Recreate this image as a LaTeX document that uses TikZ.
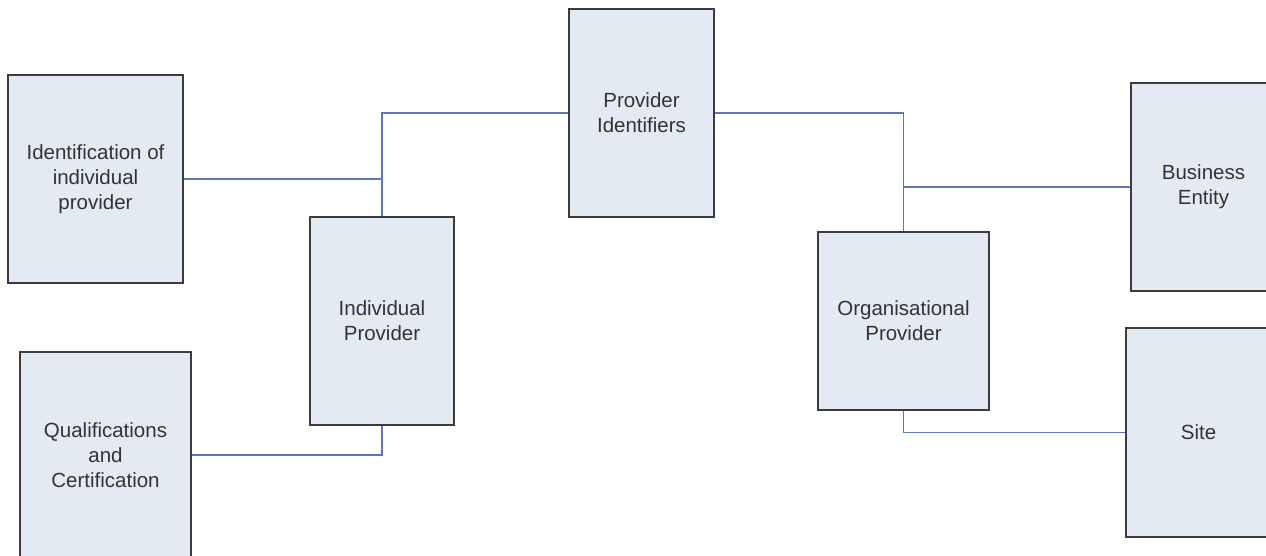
\documentclass[tikz,border=0pt]{standalone}
\usepackage{fontspec}
\setmainfont{Liberation Sans}
\definecolor{boxfill}{HTML}{E4EAF4}
\definecolor{boxline}{HTML}{3C3C3C}
\definecolor{linkblue}{HTML}{5B79BA}
\definecolor{textgray}{HTML}{333333}
\begin{document}
\begin{tikzpicture}[
    x=1pt, y=-1pt,
    font=\fontsize{20.5}{25}\selectfont,
    entity/.style={draw=boxline, line width=2pt, fill=boxfill, text=textgray, align=center, minimum height=208pt, inner sep=0pt},
    link/.style={draw=linkblue, line width=1.5pt}
]
\useasboundingbox (0,0) rectangle (1266,556);
\node[entity, minimum width=175pt] (idn) at (95.5,179) {Identification of\\individual\\provider};
\node[entity, minimum width=171pt, minimum height=206pt] (qual) at (105.5,455) {Qualifications\\and\\Certification};
\node[entity, minimum width=144pt] (ind) at (382,321) {Individual\\Provider};
\node[entity, minimum width=145pt] (pid) at (641.5,113) {Provider\\Identifiers};
\node[entity, minimum width=171pt, minimum height=178pt] (org) at (903.5,321) {Organisational\\Provider};
\node[entity, minimum width=145pt] (bus) at (1203.5,187) {Business\\Entity};
\node[entity, minimum width=145pt, minimum height=209pt] (site) at (1198.5,432.5) {Site};

\draw[link] (pid.west) -| (ind.north);
\draw[link] (idn.east) -- (idn.east -| ind.north);
\draw[link] (qual.east) -| (ind.south);
\draw[link] (pid.east) -| (org.north);
\draw[link] (bus.west) -- (bus.west -| org.north);
\draw[link] (org.south) |- (site.west);
\end{tikzpicture}
\end{document}
